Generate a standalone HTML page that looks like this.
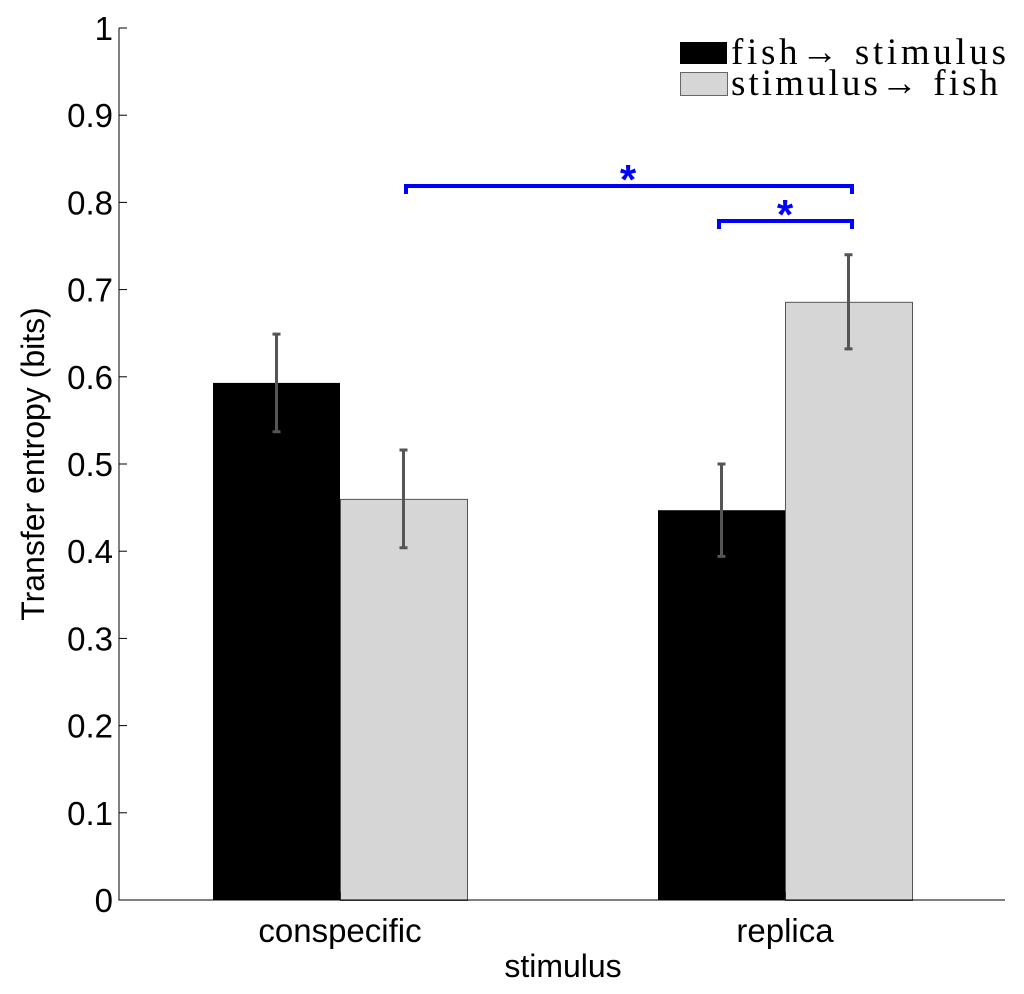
<!DOCTYPE html>
<html><head><meta charset="utf-8"><style>
html,body{margin:0;padding:0;background:#fff;}
svg{display:block;font-family:"Liberation Sans",sans-serif;}
</style></head><body>
<svg id="chart" width="1024" height="994" viewBox="0 0 1024 994">
<g id="marks"></g>
<g id="axes"></g>
<g>
<rect x="680" y="42" width="47" height="22" fill="#000"/>
<text x="731" y="64" font-family="Liberation Serif,serif" font-size="37" textLength="275">fish→ stimulus</text>
<rect x="680.5" y="72.5" width="47" height="23" fill="#d6d6d6" stroke="#666" stroke-width="1"/>
<text x="731" y="95" font-family="Liberation Serif,serif" font-size="37" textLength="267">stimulus→ fish</text>
</g>
<g fill="none" stroke="#0000ff" stroke-width="4">
<path d="M406 194 V186 H852 V194"/>
<path d="M719 229 V221 H852 V229"/>
</g>
<text x="628" y="194" font-size="42" font-weight="bold" fill="#0000ff" text-anchor="middle">*</text>
<text x="785" y="229" font-size="42" font-weight="bold" fill="#0000ff" text-anchor="middle">*</text>
<text x="563" y="977" font-size="32" text-anchor="middle">stimulus</text>
<text transform="translate(44,464) rotate(-90)" font-size="32" text-anchor="middle">Transfer entropy (bits)</text>
</svg>
<script>
const categories = ["conspecific", "replica"];
const fishToStim = [0.593, 0.447];
const stimToFish = [0.460, 0.686];
const fishToStimErr = [0.056, 0.053];
const stimToFishErr = [0.056, 0.054];
const yTicks = [0, 0.1, 0.2, 0.3, 0.4, 0.5, 0.6, 0.7, 0.8, 0.9, 1];
const yTickLabels = ["0","0.1","0.2","0.3","0.4","0.5","0.6","0.7","0.8","0.9","1"];

const NS = "http://www.w3.org/2000/svg";
const X0 = 119, X1 = 1005, Y0 = 900, Y1 = 28;
function y(v){ return Y0 - (v) * (Y0 - Y1); }
const centers = [340, 785];
function xc(i){ return centers[i]; }
const bw = 127;
function mk(tag, attrs, parent){ const e = document.createElementNS(NS, tag); for (const k in attrs) e.setAttribute(k, attrs[k]); parent.appendChild(e); return e; }
const marks = document.getElementById('marks');
const axes = document.getElementById('axes');

categories.forEach((c, i) => {
  const b1 = mk('rect', {x: xc(i) - bw, y: y(fishToStim[i]), width: bw, height: Y0 - y(fishToStim[i]), fill: '#000'}, marks);
  
  
  const b2 = mk('rect', {x: xc(i) + 0.5, y: y(stimToFish[i]) + 0.5, width: bw, height: Y0 - y(stimToFish[i]), fill: '#d6d6d6', stroke: '#555', 'stroke-width': 1}, marks);
  
  
  [[xc(i) - bw/2, fishToStim[i], fishToStimErr[i], 'fish-to-stimulus'], [xc(i) + bw/2, stimToFish[i], stimToFishErr[i], 'stimulus-to-fish']].forEach(([x, v, e, n]) => {
    const g = mk('path', {d: `M${x} ${y(v+e)} V${y(v-e)} M${x-4} ${y(v+e)} H${x+4} M${x-4} ${y(v-e)} H${x+4}`, stroke: '#555', 'stroke-width': 3, fill: 'none'}, marks);
    
    
  });
  const t = mk('text', {x: xc(i), y: 942, 'font-size': 33, 'text-anchor': 'middle'}, axes);
  t.textContent = c;
  
  
});

const frame = mk('path', {d: `M${X0} ${Y1} V${Y0} H${X1}`, stroke: '#000', 'stroke-width': 1, fill: 'none'}, axes);


yTicks.forEach((v, i) => {
  const tk = mk('path', {d: `M${X0} ${y(v)} H${X0 + 8}`, stroke: '#000', 'stroke-width': 1}, axes);
  
  
  const t = mk('text', {x: X0 - 6, y: y(v) + 12, 'font-size': 33, 'text-anchor': 'end'}, axes);
  t.textContent = yTickLabels[i];
  
  
});
categories.forEach((c, i) => {
  const tk = mk('path', {d: `M${xc(i)} ${Y0} V${Y0 - 8}`, stroke: '#000', 'stroke-width': 1}, axes);
  
  
});
</script>
</body></html>
